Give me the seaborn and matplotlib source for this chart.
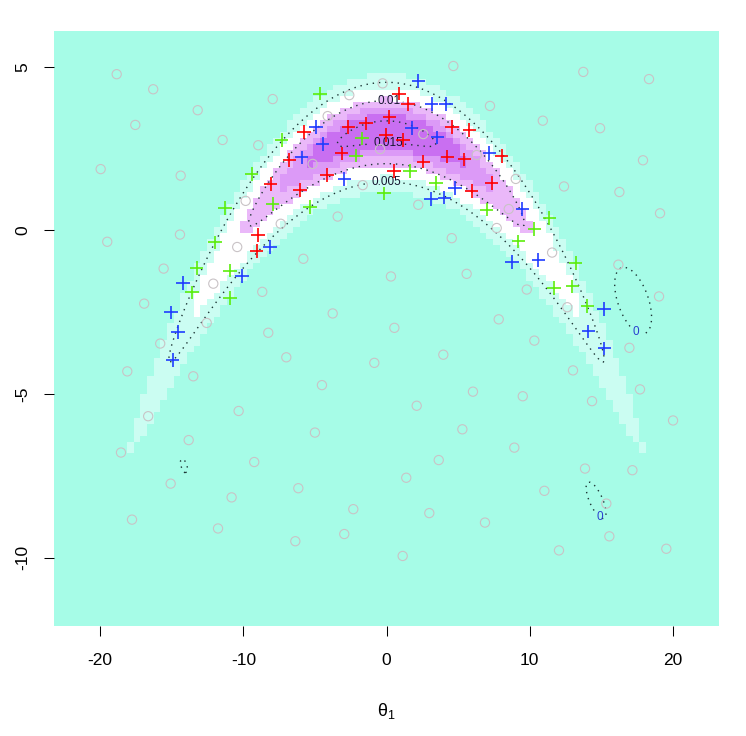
import numpy as np
import pandas as pd
import seaborn as sns
import matplotlib.pyplot as plt
from matplotlib.colors import ListedColormap, BoundaryNorm

# banana shaped target: theta1 ~ N(0, sd1^2), theta2 + b*theta1^2 - b*sd1^2 ~ N(0, sd2^2)
b_curv = 0.03
sd1 = 10.0
sd2 = 1.0

grid_x = np.linspace(-23, 23, 100)
grid_y = np.linspace(-12, 6, 100)

contour_levels = [0.005, 0.01, 0.015]
# colour bands, break points as fractions of the peak density
band_breaks = [0.0, 0.2, 0.4, 0.6, 0.76, 0.86, 1.0]
band_colors = ["#a6fce7", "#cbfdf2", "#ffffff", "#eab8f9", "#dc9af7", "#c96ff1"]

# small "0" loops of the contoured surface: centre, half width, half height, tilt
loop_cx = [17.23, 14.64, -14.15]
loop_cy = [-2.15, -8.25, -7.2]
loop_sx = [1.29, 0.70, 0.25]
loop_sy = [1.02, 0.56, 0.22]
loop_rho = [-0.5, -0.7, -0.5]

# grey design points
circle_x = [-18.85, -16.30, -13.19, -17.55, -11.45, -19.97, -14.38, 13.75, 18.34, 10.92,
            14.92, 17.92, 12.40, 16.27, 19.11, 4.67, -7.95, -0.27, -2.60, 7.23,
            -4.11, 2.57, -8.96, -5.16, -0.45, 6.30, 9.03, -1.66, -9.84, 2.22,
            8.54, -3.41, -7.39, -10.43, 4.56, -5.81, 0.31, 5.60, 7.70, 9.80,
            -8.68, -3.76, 0.55, -8.26, 7.84, -7.00, 3.97, -0.85, -4.51, 6.04,
            9.52, -19.51, -14.43, -15.57, -12.10, -16.93, -12.56, -15.81, -18.11, -13.50,
            -10.33, -16.65, -13.82, -18.55, -9.24, -5.00, -15.08, -10.82, -6.16, -2.32,
            -17.78, -11.77, -6.37, -2.95, 2.11, 14.36, 17.71, 20.02, 5.30, 8.93,
            3.65, 1.38, 13.87, 17.18, 11.03, 15.36, 2.99, 6.88, 15.57, 1.13,
            12.05, 19.55, 11.57, 16.20, 19.04, 12.63, 10.33, 16.97, 13.03]
circle_y = [4.77, 4.31, 3.67, 3.22, 2.76, 1.87, 1.67, 4.84, 4.62, 3.35,
            3.12, 2.14, 1.34, 1.17, 0.52, 5.02, 4.01, 4.49, 4.13, 3.80,
            3.49, 2.94, 2.60, 2.03, 2.48, 2.30, 1.57, 1.38, 0.90, 0.78,
            0.65, 0.42, 0.20, -0.51, -0.24, -0.87, -1.41, -1.33, 0.07, -1.81,
            -1.88, -2.54, -2.98, -3.13, -2.72, -3.88, -3.80, -4.05, -4.73, -4.93,
            -5.07, -0.35, -0.13, -1.17, -1.63, -2.24, -2.83, -3.46, -4.31, -4.46,
            -5.52, -5.68, -6.41, -6.79, -7.08, -6.18, -7.74, -8.16, -7.88, -8.52,
            -8.84, -9.11, -9.50, -9.28, -5.36, -5.22, -4.86, -5.81, -6.08, -6.64,
            -7.02, -7.56, -7.28, -7.33, -7.96, -8.35, -8.64, -8.93, -9.35, -9.95,
            -9.78, -9.73, -0.68, -1.05, -2.02, -2.35, -3.37, -3.59, -4.28]

# sampled points, three chains
red_x = [0.87, 1.52, 0.20, -1.43, -2.67, -5.77, 4.56, 5.79, -0.03, 1.17, -3.13, -6.79,
         2.57, 4.25, 5.44, 8.05, 0.52, -4.14, -8.09, -6.04, 5.95, 7.35, -8.96, -9.07]
red_y = [4.18, 3.86, 3.47, 3.27, 3.16, 3.00, 3.16, 3.06, 2.91, 2.76, 2.35, 2.15,
         2.10, 2.25, 2.17, 2.27, 1.81, 1.69, 1.42, 1.23, 1.20, 1.44, -0.14, -0.63]
green_x = [-4.65, -7.32, -1.73, -2.13, 1.64, -9.42, 3.44, -0.17, -7.95, -5.35, 7.00, -11.29,
           -11.98, -13.26, -10.94, -13.57, -10.94, 11.38, 10.33, 9.21, 13.22, 11.71, 12.98, 14.03]
green_y = [4.18, 2.76, 2.81, 2.28, 1.81, 1.72, 1.44, 1.13, 0.81, 0.71, 0.63, 0.68,
           -0.37, -1.15, -1.23, -1.90, -2.07, 0.37, 0.04, -0.34, -1.00, -1.76, -1.71, -2.32]
blue_x = [2.22, 3.16, 4.16, -4.93, 1.76, 3.55, -4.46, -5.93, 7.18, -2.95, 4.79, 3.11, 4.04,
          9.49, -8.14, -10.10, -14.20, -15.06, -14.55, -14.94, 8.75, 10.61, 15.20, 14.10, 15.22]
blue_y = [4.57, 3.86, 3.86, 3.15, 3.12, 2.84, 2.64, 2.23, 2.37, 1.57, 1.29, 0.95, 1.00,
          0.65, -0.51, -1.39, -1.61, -2.51, -3.10, -3.97, -0.97, -0.90, -2.40, -3.09, -3.61]

chain_colors = {"red": "#ff0000", "green": "#5ced0c", "blue": "#1f3cff"}


def banana(t1, t2):
    u = t2 + b_curv * t1 ** 2 - b_curv * sd1 ** 2
    return np.exp(-0.5 * (t1 / sd1) ** 2 - 0.5 * (u / sd2) ** 2) / (2 * np.pi * sd1 * sd2)


plt.rcParams["font.family"] = ["Liberation Sans", "DejaVu Sans"]
plt.rcParams["axes.unicode_minus"] = False
plt.rcParams["mathtext.fontset"] = "custom"
plt.rcParams["mathtext.rm"] = "Liberation Sans"
plt.rcParams["mathtext.it"] = "Liberation Sans"
plt.rcParams["mathtext.default"] = "regular"

fig = plt.figure(figsize=(7.46, 7.36), dpi=100)
ax = fig.add_axes([54 / 746, 1 - 626 / 736, 665 / 746, 595 / 736])

gx, gy = np.meshgrid(grid_x, grid_y)
dens = banana(gx, gy)
breaks = np.array(band_breaks) * dens.max() * 1.0001
ax.pcolormesh(grid_x, grid_y, dens, shading="nearest",
              cmap=ListedColormap(band_colors), norm=BoundaryNorm(breaks, len(band_colors)),
              antialiased=False, zorder=0)

# dotted contours with labels
fx = np.linspace(-23, 23, 300)
fy = np.linspace(-12, 6, 300)
fxx, fyy = np.meshgrid(fx, fy)
cs = ax.contour(fx, fy, banana(fxx, fyy), levels=contour_levels, colors="#1c3434",
                linewidths=1.0, linestyles=[(0, (1, 3.5))], zorder=1)
labs = ax.clabel(cs, fmt={0.005: "0.005", 0.01: "0.01", 0.015: "0.015"}, fontsize=8.5,
                 colors="#14142e", inline=True, inline_spacing=2,
                 manual=[(0.2, 3.98), (0.1, 2.5), (0.0, 1.40)])
for t in labs:
    t.set_rotation(0)

loop_field = np.full(fxx.shape, np.inf)
for cx, cy, sx, sy, rho in zip(loop_cx, loop_cy, loop_sx, loop_sy, loop_rho):
    dx = (fxx - cx) / sx
    dy = (fyy - cy) / sy
    q = (dx ** 2 - 2 * rho * dx * dy + dy ** 2) / (1 - rho ** 2)
    loop_field = np.minimum(loop_field, q)
cl = ax.contour(fx, fy, loop_field, levels=[1.0], colors="#1c3434",
                linewidths=1.0, linestyles=[(0, (1, 3.5))], zorder=1)
labs0 = ax.clabel(cl, fmt=lambda v: "0", fontsize=8.5, colors="#2a3fd0", inline=True,
                  manual=[(17.45, -3.1), (14.8, -8.8)])
for t in labs0:
    t.set_rotation(0)

circles = pd.DataFrame({"theta1": circle_x, "theta2": circle_y})
sns.scatterplot(data=circles, x="theta1", y="theta2", marker="o", s=44,
                facecolor="none", edgecolor="#c9c3c6", linewidth=0.8, ax=ax, zorder=3)

chains = pd.concat([
    pd.DataFrame({"theta1": red_x, "theta2": red_y, "chain": "red"}),
    pd.DataFrame({"theta1": green_x, "theta2": green_y, "chain": "green"}),
    pd.DataFrame({"theta1": blue_x, "theta2": blue_y, "chain": "blue"}),
], ignore_index=True)
sns.scatterplot(data=chains, x="theta1", y="theta2", hue="chain", palette=chain_colors,
                marker="+", s=95, linewidth=1.2, legend=False, ax=ax, zorder=4)

ax.set_xlim(-23.23, 23.23)
ax.set_ylim(-12.09, 6.09)
for side in ["top", "right", "bottom", "left"]:
    ax.spines[side].set_visible(False)
ax.set_xticks([-20, -10, 0, 10, 20])
ax.set_yticks([-10, -5, 0, 5])
ax.set_yticklabels(["-10", "-5", "0", "5"], rotation=90, va="center")
ax.tick_params(axis="both", direction="out", length=7.2, width=0.75, labelsize=12.5, color="black")
ax.tick_params(axis="x", pad=12)
ax.tick_params(axis="y", pad=10)
ax.set_ylabel("")
ax.set_xlabel(r"$\theta_1$", fontsize=13)
ax.xaxis.set_label_coords(0.5, -(711 - 626) / 595)
ax.xaxis.label.set_verticalalignment("center")

fig.savefig("out.png", dpi=100)
